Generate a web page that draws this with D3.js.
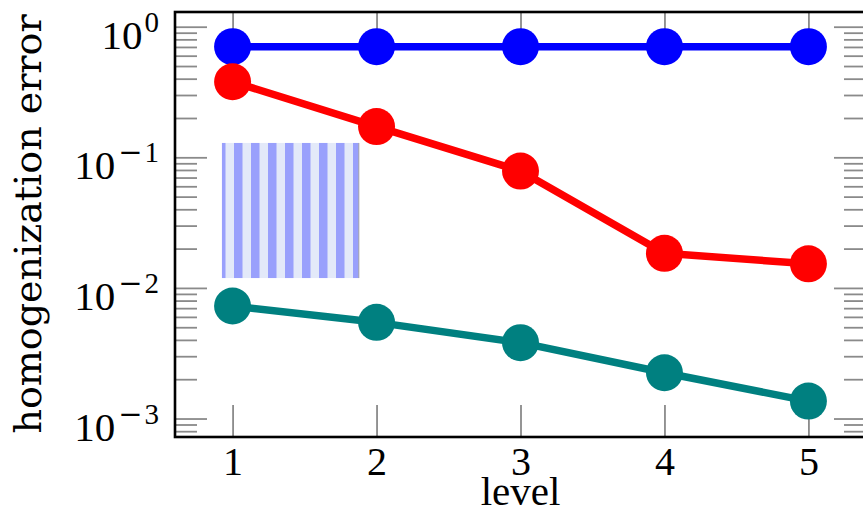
<!DOCTYPE html>
<html>
<head>
<meta charset="utf-8">
<script src="https://cdn.jsdelivr.net/npm/d3@7"></script>
<style>
  body { margin: 0; background: #fff; }
  text { font-family: "Liberation Serif", "Times New Roman", serif; fill: #000; }
</style>
</head>
<body>
<svg id="canvas" width="863" height="514"></svg>
<script>
let levels = [1, 2, 3, 4, 5]

let blueErr = [0.703, 0.703, 0.703, 0.703, 0.703]
let redErr = [0.379, 0.172, 0.0785, 0.0184, 0.0153]
let tealErr = [0.00727, 0.00545, 0.00381, 0.00224, 0.00136]

let majorTicks = [1e-3, 1e-2, 1e-1, 1]
let majorExp = ["3", "2", "1", "0"]
let majorNeg = [true, true, true, false]

// striped box, in data units
let bandX = [0.926, 1.877]
let bandY = [0.1288, 0.0119]

let canvas = d3.select("#canvas")

let plotLeft = 175, plotRight = 866, plotTop = 12, plotBottom = 437

let x = d3.scaleLinear().domain([0.6, 5.4]).range([plotLeft, plotRight])
let y = d3.scaleLog().domain([0.000722, 1.296]).range([plotBottom, plotTop])

let minorTicks = []
for (let e = -4; e <= 0; e++) {
    for (let m = 2; m <= 9; m++) {
        let v = m * Math.pow(10, e)
        if (v > y.domain()[0] && v < y.domain()[1]) minorTicks.push(v)
    }
}

// pattern for the box
let defs = canvas.append("defs")
let pat = defs.append("pattern")
    .attr("id", "stripes")
    .attr("patternUnits", "userSpaceOnUse")
    .attr("x", 217)
    .attr("y", 0)
    .attr("width", 17)
    .attr("height", 10)
pat.append("rect").attr("width", 17).attr("height", 10).attr("fill", "#e3e9f9")
pat.append("rect").attr("width", 8.5).attr("height", 10).attr("fill", "#99a0fc")

let tickStyle = (g) => {
    g.select(".domain").remove()
    g.selectAll(".tick line").attr("stroke", "#8a8a8a").attr("stroke-width", 1.8)
}

// y ticks left/right, major + minor
canvas.append("g")
    .attr("transform", `translate(${plotLeft},0)`)
    .call(d3.axisLeft(y).tickValues(majorTicks).tickSize(-32).tickFormat(""))
    .call(tickStyle)
canvas.append("g")
    .attr("transform", `translate(${plotLeft},0)`)
    .call(d3.axisLeft(y).tickValues(minorTicks).tickSize(-22).tickFormat(""))
    .call(tickStyle)
canvas.append("g")
    .attr("transform", `translate(${plotRight},0)`)
    .call(d3.axisRight(y).tickValues(majorTicks).tickSize(-32).tickFormat(""))
    .call(tickStyle)
canvas.append("g")
    .attr("transform", `translate(${plotRight},0)`)
    .call(d3.axisRight(y).tickValues(minorTicks).tickSize(-22).tickFormat(""))
    .call(tickStyle)

// x ticks top/bottom
canvas.append("g")
    .attr("transform", `translate(0,${plotTop})`)
    .call(d3.axisTop(x).tickValues(levels).tickSize(-32).tickFormat(""))
    .call(tickStyle)
let xAxis = canvas.append("g")
    .attr("transform", `translate(0,${plotBottom})`)
    .call(d3.axisBottom(x).tickValues(levels).tickSizeInner(-32).tickSizeOuter(0).tickPadding(10).tickFormat(d3.format("d")))
    .call(tickStyle)
xAxis.selectAll(".tick text")
    .attr("font-size", 40)
    .attr("fill", "#000")

// y tick labels with superscripts
let yLabels = canvas.append("g")
majorTicks.forEach((v, i) => {
    let t = yLabels.append("text")
        .attr("x", plotLeft - 16)
        .attr("y", y(v) + 22)
        .attr("text-anchor", "end")
        .attr("font-size", 41)
    t.append("tspan").text("10")
    if (majorNeg[i]) {
        t.append("tspan")
            .attr("font-size", 29)
            .attr("dx", 3)
            .attr("dy", -17)
            .style("font-family", "DejaVu Sans")
            .text("−")
        t.append("tspan")
            .attr("font-size", 29)
            .attr("dx", 2)
            .text(majorExp[i])
    } else {
        t.append("tspan")
            .attr("font-size", 29)
            .attr("dx", 2)
            .attr("dy", -17)
            .text(majorExp[i])
    }
})

// striped box
canvas.append("rect")
    .attr("x", x(bandX[0]))
    .attr("y", y(bandY[0]))
    .attr("width", x(bandX[1]) - x(bandX[0]))
    .attr("height", y(bandY[1]) - y(bandY[0]))
    .attr("fill", "url(#stripes)")
canvas.append("line")
    .attr("x1", x(bandX[1]))
    .attr("x2", x(bandX[1]))
    .attr("y1", y(bandY[0]))
    .attr("y2", y(bandY[1]))
    .attr("stroke", "#a0a0a8")
    .attr("stroke-width", 1)

// series
let series = [
    { values: blueErr, color: "#0000ff" },
    { values: redErr, color: "#ff0000" },
    { values: tealErr, color: "#008080" }
]

let line = d3.line()
    .x((d, i) => x(levels[i]))
    .y((d) => y(d))

series.forEach((s) => {
    canvas.append("path")
        .attr("d", line(s.values))
        .attr("fill", "none")
        .attr("stroke", s.color)
        .attr("stroke-width", 7.5)
        .attr("stroke-linejoin", "round")
    canvas.append("g").selectAll("circle")
        .data(s.values)
        .enter()
        .append("circle")
        .attr("cx", (d, i) => x(levels[i]))
        .attr("cy", (d) => y(d))
        .attr("r", 18.5)
        .attr("fill", s.color)
})

// frame
canvas.append("rect")
    .attr("x", plotLeft)
    .attr("y", plotTop)
    .attr("width", plotRight - plotLeft)
    .attr("height", plotBottom - plotTop)
    .attr("fill", "none")
    .attr("stroke", "#000")
    .attr("stroke-width", 2.6)

// axis titles
canvas.append("text")
    .attr("x", (plotLeft + plotRight) / 2)
    .attr("y", 505)
    .attr("text-anchor", "middle")
    .attr("font-size", 41)
    .text("level")

canvas.append("text")
    .attr("transform", `translate(41, ${(15 + 433) / 2}) rotate(-90)`)
    .attr("text-anchor", "middle")
    .attr("font-size", 38)
    .style("font-family", "DejaVu Serif")
    .text("homogenization error")
</script>
</body>
</html>
